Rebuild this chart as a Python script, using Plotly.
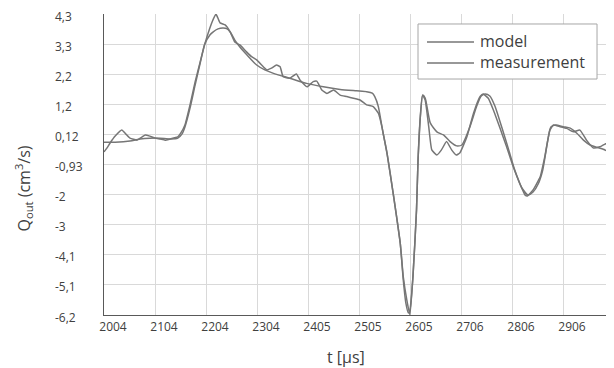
import plotly.graph_objects as go

# ---- data ----
t_measurement = [2004, 2010, 2016, 2026, 2039, 2047, 2055, 2069, 2079, 2085, 2094, 2104, 2114, 2124,
                 2134, 2149, 2155, 2163, 2173, 2183, 2193, 2202, 2212, 2218, 2224, 2232, 2242, 2252,
                 2261, 2271, 2284, 2294, 2304, 2317, 2324, 2333, 2343, 2350, 2356, 2369, 2382, 2389,
                 2403, 2415, 2422, 2432, 2442, 2455, 2468, 2481, 2494, 2507, 2520, 2533, 2543, 2550,
                 2553, 2560, 2572, 2586, 2592, 2599, 2605, 2611, 2618, 2621, 2625, 2630, 2635, 2642,
                 2648, 2658, 2667, 2677, 2687, 2696, 2703, 2717, 2730, 2743, 2749, 2759, 2769, 2782,
                 2795, 2808, 2821, 2831, 2836, 2847, 2861, 2870, 2880, 2887, 2900, 2913, 2926, 2939,
                 2952, 2965, 2978, 2998, 3006]
q_measurement = [-0.51, -0.37, -0.20, 0.04, 0.25, 0.11, -0.03, -0.10, 0.01, 0.08, 0.04, -0.03, -0.06, -0.10,
                 -0.06, 0.01, 0.15, 0.43, 1.13, 1.93, 2.63, 3.25, 3.81, 4.09, 4.30, 3.99, 3.92, 3.67,
                 3.32, 3.22, 2.98, 2.81, 2.70, 2.46, 2.35, 2.41, 2.52, 2.46, 2.11, 2.06, 2.21, 2.00,
                 1.76, 1.94, 1.96, 1.65, 1.53, 1.65, 1.47, 1.42, 1.36, 1.30, 1.13, 1.07, 0.84, 0.37,
                 0.08, -0.55, -1.94, -3.69, -4.87, -5.68, -6.20, -4.86, -2.54, -0.79, 0.60, 1.47, 1.30, 0.37,
                 -0.44, -0.62, -0.44, -0.15, -0.44, -0.62, -0.55, 0.02, 0.84, 1.42, 1.51, 1.36, 0.95, 0.32,
                 -0.33, -1.03, -1.61, -2.01, -2.05, -1.84, -1.38, -0.68, 0.25, 0.43, 0.37, 0.31, 0.19, 0.25,
                 -0.10, -0.37, -0.33, -0.15, -0.13]

t_model = [2004, 2026, 2055, 2075, 2094, 2114, 2134, 2149, 2157, 2163, 2173, 2183, 2193, 2202,
           2212, 2218, 2228, 2238, 2246, 2252, 2261, 2271, 2285, 2304, 2320, 2337, 2369, 2402,
           2435, 2468, 2500, 2520, 2531, 2536, 2543, 2550, 2560, 2572, 2586, 2592, 2597, 2602,
           2605, 2611, 2618, 2621, 2625, 2630, 2635, 2645, 2658, 2671, 2684, 2697, 2707, 2723,
           2736, 2745, 2753, 2762, 2772, 2786, 2798, 2811, 2825, 2837, 2847, 2857, 2866, 2876,
           2882, 2892, 2906, 2920, 2933, 2946, 2959, 2972, 2985, 2995, 3006]
q_model = [-0.17, -0.17, -0.13, -0.06, -0.03, -0.03, -0.06, -0.03, 0.11, 0.36, 1.02, 1.82, 2.59, 3.25,
           3.57, 3.67, 3.78, 3.81, 3.78, 3.67, 3.39, 3.15, 2.87, 2.52, 2.35, 2.23, 2.06, 1.88,
           1.76, 1.67, 1.62, 1.59, 1.54, 1.42, 1.07, 0.37, -0.55, -1.94, -3.69, -4.98, -5.78, -6.13,
           -6.03, -4.86, -2.54, -0.79, 0.60, 1.47, 1.37, 0.50, 0.19, 0.08, -0.15, -0.30, -0.27, 0.37,
           1.07, 1.44, 1.51, 1.44, 1.09, 0.32, -0.37, -1.14, -1.77, -2.01, -1.91, -1.63, -1.14, -0.10,
           0.36, 0.43, 0.37, 0.32, 0.14, -0.10, -0.27, -0.35, -0.42, -0.50, -0.58]

x_tick_values = [2004, 2104.2, 2204.4, 2304.6, 2404.8, 2505.0, 2605.2, 2705.4, 2805.6, 2905.8]
x_tick_labels = ["2004", "2104", "2204", "2304", "2405", "2505", "2605", "2706", "2806", "2906"]
y_tick_values = [-6.2, -5.15, -4.1, -3.05, -2.0, -0.95, 0.1, 1.15, 2.2, 3.25, 4.3]
y_tick_labels = ["-6,2", "-5,1", "-4,1", "-3", "-2", "-0,93", "0,12", "1,2", "2,2", "3,3", "4,3"]
series_names = ["model", "measurement"]

# ---- styling ----
FONT = "Open Sans"
LINE_COLOR = "#767676"
TEXT_COLOR = "#404040"

fig = go.Figure()
fig.add_trace(go.Scatter(x=t_model, y=q_model, mode="lines", name=series_names[0],
                         line=dict(color=LINE_COLOR, width=1.5, shape="spline", smoothing=0.6),
                         showlegend=False))
fig.add_trace(go.Scatter(x=t_measurement, y=q_measurement, mode="lines", name=series_names[1],
                         line=dict(color=LINE_COLOR, width=1.5, shape="spline", smoothing=0.4),
                         showlegend=False))

# the page body adds an 8px margin, so the figure is sized/offset to compensate
fig.update_layout(
    width=606, height=360,
    margin=dict(l=96, r=0, t=6, b=53),
    paper_bgcolor="white", plot_bgcolor="white",
    font=dict(family=FONT, size=12, color=TEXT_COLOR),
)
fig.update_xaxes(
    range=[2004, 3006], tickmode="array", tickvals=x_tick_values, ticktext=x_tick_labels,
    showgrid=True, gridcolor="#d9d9d9", gridwidth=1.2,
    showline=True, linecolor="#595959", linewidth=1.3,
    ticks="", zeroline=False, ticklabelshift=9,
    tickfont=dict(family=FONT, size=12, color=TEXT_COLOR),
)
fig.update_yaxes(
    range=[-6.2, 4.3], tickmode="array", tickvals=y_tick_values,
    showticklabels=False,
    showgrid=True, gridcolor="#d9d9d9", gridwidth=1.2,
    showline=True, linecolor="#595959", linewidth=1.3,
    ticks="", zeroline=False,
)

annotations = []
# y tick labels (left aligned, as in the reference)
for v, txt in zip(y_tick_values, y_tick_labels):
    annotations.append(dict(x=-0.1, xref="paper", y=v, yref="y", text=txt, showarrow=False,
                            xanchor="left", yanchor="middle", yshift=-2,
                            font=dict(family=FONT, size=12, color=TEXT_COLOR)))
# axis titles
annotations.append(dict(x=0.4745, xref="paper", y=-0.14, yref="paper", text="t [µs]",
                        showarrow=False, xanchor="center", yanchor="middle",
                        font=dict(family=FONT, size=16, color=TEXT_COLOR)))
annotations.append(dict(x=-0.157, xref="paper", y=0.42, yref="paper",
                        text="Q<sub>out</sub> (cm<sup>3</sup>/s)", textangle=-90,
                        showarrow=False, xanchor="center", yanchor="middle",
                        font=dict(family=FONT, size=16, color=TEXT_COLOR)))

# legend drawn as a box with line samples
shapes = [dict(type="rect", xref="paper", yref="paper", x0=0.6157, x1=0.9667, y0=0.784, y1=0.9668,
               line=dict(color="#a6a6a6", width=1), fillcolor="white", layer="above")]
for name, yy in zip(series_names, [0.907, 0.837]):
    shapes.append(dict(type="line", xref="paper", yref="paper", x0=0.6333, x1=0.7255, y0=yy, y1=yy,
                       line=dict(color=LINE_COLOR, width=1.5), layer="above"))
    annotations.append(dict(x=0.7333, xref="paper", y=yy, yref="paper", text=name, showarrow=False,
                            xanchor="left", yanchor="middle", yshift=1,
                            font=dict(family=FONT, size=16, color=TEXT_COLOR)))

fig.update_layout(annotations=annotations, shapes=shapes)
fig.write_html("out.html")
